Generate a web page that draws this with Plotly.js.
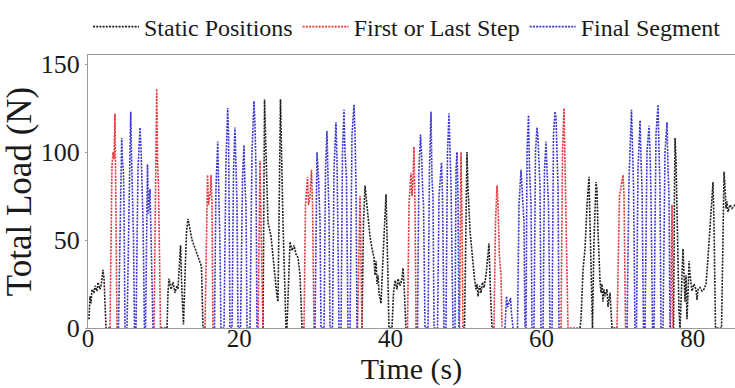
<!DOCTYPE html>
<html>
<head>
<meta charset="utf-8">
<script src="https://cdn.plot.ly/plotly-3.0.1.min.js"></script>
<style>
  html, body { margin: 0; padding: 0; background: #ffffff; }
  #chart { width: 735px; height: 388px; }
  svg text { font-family: "Liberation Serif", "Times New Roman", Times, serif !important; }
</style>
</head>
<body>
<div id="chart"></div>
<script>
// ---- Data (time in s, load in N); null separates segments ----
const staticTime = [
  0.13,0.26,0.40,0.53,0.79,0.93,1.19,1.32,1.59,1.72,1.85,1.98,2.12,2.25,2.38,2.91, null,
  9.59,10.45,10.58,10.71,10.98,11.24,11.51,11.77,11.90,12.04,12.24,12.43,12.63,12.83,13.03,13.23,13.49,13.76,14.02,14.29,14.55,14.81,15.01,15.21,15.48, null,
  23.15,23.35,23.54,23.81,24.21,24.47,24.74,25.00,25.13,25.46,25.79,26.19,26.32,26.59,26.72,26.98,27.25,27.51,27.78,28.04,28.31,28.57, null,
  36.24,36.44,36.64,36.77,37.04,37.30,37.57,37.83,37.96,38.10,38.23,38.36,38.49,38.76,39.02,39.42,39.62,39.81,40.21,40.41,40.61,40.87,41.01,41.27,41.53,41.67,41.80,42.06,42.26, null,
  49.60,49.80,50.00,50.13,50.26,50.53,50.73,50.93,51.12,51.32,51.46,51.59,51.79,51.98,52.18,52.38,52.65,52.91,53.04,53.24,53.44,53.70, null,
  65.08,65.21,65.48,65.74,66.01,66.27,66.40,66.60,66.73,66.93,67.20,67.33,67.46,67.72,67.86,67.99,68.12,68.25,68.39,68.65,68.78,69.05,69.31,69.97, null,
  77.38,77.45,77.58,77.65,77.78,77.91,78.04,78.17,78.31,78.51,78.70,78.84,78.97,79.10,79.23,79.37,79.50,79.63,79.76,79.89,80.16,80.42,80.56,80.69,80.95,81.22,81.48,81.75,82.01,82.28,82.54,82.67,82.80,83.00,83.80,84.00,84.13,84.26,84.39,84.52,84.66,84.92,85.19,85.58
];
const staticLoad = [
  5,18,14,22,20,24,21,26,22,24,28,33,28,12,0,0, null,
  0,0,20,28,22,26,20,24,22,30,47,20,2,30,55,62,55,50,47,44,40,38,35,0,0, null,
  0,130,100,60,52,40,28,18,15,130,60,0,0,40,49,44,47,42,40,30,0,0, null,
  0,60,81,75,60,52,45,40,30,38,25,30,20,14,40,76,40,0,0,20,27,22,28,24,28,34,25,0,0, null,
  0,0,60,100,80,55,46,35,28,22,25,18,24,20,26,23,30,42,48,20,0,0, null,
  0,5,33,45,70,86,60,20,0,50,83,78,55,27,20,25,15,22,18,22,12,20,0,0, null,
  0,0,80,108,95,60,30,10,0,20,45,30,15,30,5,20,38,30,25,21,25,22,16,22,23,21,22,25,40,60,80,83,60,0,0,60,89,80,68,72,66,70,68,70
];

const stepTime = [
  2.91,3.17,3.31,3.44,3.57,3.70,3.84, null,
  8.73,8.93,9.09,9.19,9.33,9.46,9.59, null,
  15.48,15.67,15.81,15.94,16.20,16.27,16.40,16.53, null,
  22.49,22.62,22.75,22.88,23.15, null,
  28.57,28.77,29.03,29.17,29.37,29.56,29.70,29.89, null,
  35.65,35.85,35.98,36.11,36.24, null,
  42.26,42.46,42.72,42.86,42.99,43.12,43.25,43.39, null,
  49.14,49.27,49.34,49.47,49.60, null,
  53.70,53.90,54.10,54.23,54.43,54.63,54.76, null,
  62.57,62.76,62.96,63.10,63.23,63.36,63.49,65.08, null,
  69.97,70.17,70.30,70.50,70.77,70.90,71.10, null,
  77.05,77.18,77.25,77.38
];
const stepLoad = [
  0,92,100,96,122,60,0, null,
  0,90,136,95,80,40,0, null,
  0,60,87,70,78,87,70,0, null,
  0,75,95,60,0, null,
  0,70,86,70,75,90,70,0, null,
  0,60,75,40,0, null,
  0,70,88,75,85,103,70,0, null,
  0,80,100,60,0, null,
  0,60,81,70,40,30,0, null,
  0,100,125,90,80,50,0,0, null,
  0,60,75,80,87,75,0, null,
  0,60,70,0
];

const finalTime = [
  4.03,4.23,4.46,4.56,4.70,4.76,4.89, 5.16,5.42,5.65,5.75,5.89,6.02,6.15, 6.35,6.61,6.88,7.01,7.14,7.28,7.47, 7.61,7.87,8.00,8.20,8.33,8.47,8.60, null,
  16.73,16.93,17.16,17.26,17.39,17.46,17.59, 17.99,18.25,18.48,18.59,18.65,18.78, 19.05,19.25,19.44,19.58,19.71,19.84, 20.17,20.44,20.63,20.77,20.90,21.03, 21.43,21.69,21.96,22.09,22.22,22.35, null,
  30.03,30.16,30.29,30.49,30.69,30.82, 31.22,31.42,31.61,31.75,31.88,32.01, 32.34,32.54,32.80,32.94,33.07,33.20, 33.47,33.66,33.86,33.99,34.19,34.39, 34.66,34.92,35.19,35.32,35.45,35.58, null,
  43.58,43.78,43.98,44.11,44.25,44.38,44.58, 44.97,45.17,45.37,45.50,45.63,45.77, 46.23,46.43,46.56,46.76,46.89,47.09, 47.35,47.55,47.75,47.88,48.02,48.28, 48.54,48.68,48.81,48.94,49.07, null,
  55.16,55.36,55.49,55.69,55.89,56.02,56.22, null,
  56.81,57.01,57.14,57.28,57.47,57.67,57.80, 57.94,58.07,58.27,58.40,58.60,58.73, 58.99,59.19,59.39,59.52,59.66,59.79,59.92, 60.19,60.38,60.58,60.71,60.91,61.11, 61.38,61.57,61.77,61.90,62.04,62.17,62.30, null,
  71.30,71.56,71.89,72.02,72.16,72.35, 72.55,72.75,73.02,73.15,73.28,73.48, 73.68,73.94,74.21,74.34,74.47,74.67, 74.87,75.13,75.40,75.53,75.66,75.79, 76.06,76.32,76.59,76.72,76.85,76.98
];
const finalLoad = [
  0,60,108,95,88,70,0, 0,80,123,100,80,50,0, 0,90,114,102,85,60,0, 0,93,65,79,50,18,0, null,
  0,80,106,90,55,45,0, 0,95,125,110,80,0, 0,90,114,80,70,0, 0,85,104,80,70,0, 0,100,129,115,90,0, null,
  0,80,100,85,60,0, 0,90,112,85,65,0, 0,90,117,95,30,0, 0,100,124,100,85,0, 0,110,127,110,80,0, null,
  0,90,110,100,80,70,0, 0,90,123,85,75,0, 0,75,85,94,75,0, 0,100,122,95,80,0, 0,90,100,75,0, null,
  0,18,12,15,17,8,0, null,
  0,70,80,90,75,60,0, 0,100,121,90,70,0, 0,100,114,108,90,80,0, 0,90,106,90,70,0, 0,110,123,120,90,80,0, null,
  0,85,124,95,80,0, 0,90,118,95,80,0, 0,100,115,100,75,0, 0,110,127,100,80,0, 0,100,117,90,75,0
];

const seriesNames = ['Static Positions', 'First or Last Step', 'Final Segment'];
const xTicks = [0, 20, 40, 60, 80];
const yTicks = [0, 50, 100, 150];

// ---- Figure ----
const dotted = '2px,1.2px';
const traces = [
  { x: staticTime, y: staticLoad, name: seriesNames[0], type: 'scatter', mode: 'lines',
    connectgaps: false, line: { color: '#1e1e1e', width: 1.6, dash: dotted } },
  { x: stepTime, y: stepLoad, name: seriesNames[1], type: 'scatter', mode: 'lines',
    connectgaps: false, line: { color: '#e3323a', width: 1.6, dash: dotted } },
  { x: finalTime, y: finalLoad, name: seriesNames[2], type: 'scatter', mode: 'lines',
    connectgaps: false, line: { color: '#3834d4', width: 1.6, dash: dotted } }
];

const serif = 'Liberation Serif, Times New Roman, Times, serif';
const layout = {
  width: 735, height: 388,
  margin: { l: 88, r: 0, t: 55, b: 60, pad: 0 },
  paper_bgcolor: '#ffffff', plot_bgcolor: '#ffffff',
  font: { family: serif, color: '#1a1a1a', size: 22 },
  showlegend: true,
  legend: { orientation: 'h', x: 0, xanchor: 'left', y: 1.02, yanchor: 'bottom',
            font: { family: serif, size: 24, color: '#1a1a1a' }, bgcolor: 'rgba(0,0,0,0)',
            tracegroupgap: 0, itemwidth: 46 },
  xaxis: {
    range: [0, 85.58], tickmode: 'array', tickvals: xTicks, ticktext: xTicks.map(String),
    showline: true, mirror: true, linecolor: '#9a9a9a', linewidth: 1,
    showgrid: false, zeroline: false, ticks: '', ticklabelstandoff: -12,
    tickfont: { family: serif, size: 25 },
    title: { text: 'Time (s)', font: { family: serif, size: 30 }, standoff: 0 }
  },
  yaxis: {
    range: [0, 155.2], tickmode: 'array', tickvals: yTicks, ticktext: yTicks.map(String),
    showline: true, mirror: false, linecolor: '#9a9a9a', linewidth: 1,
    showgrid: false, zeroline: false, ticks: 'outside', ticklen: 2, tickcolor: '#9a9a9a',
    tickfont: { family: serif, size: 26 },
    title: { text: 'Total Load (N)', font: { family: serif, size: 35 }, standoff: 2 }
  }
};

Plotly.newPlot('chart', traces, layout, { displayModeBar: false, staticPlot: true });
</script>
</body>
</html>
